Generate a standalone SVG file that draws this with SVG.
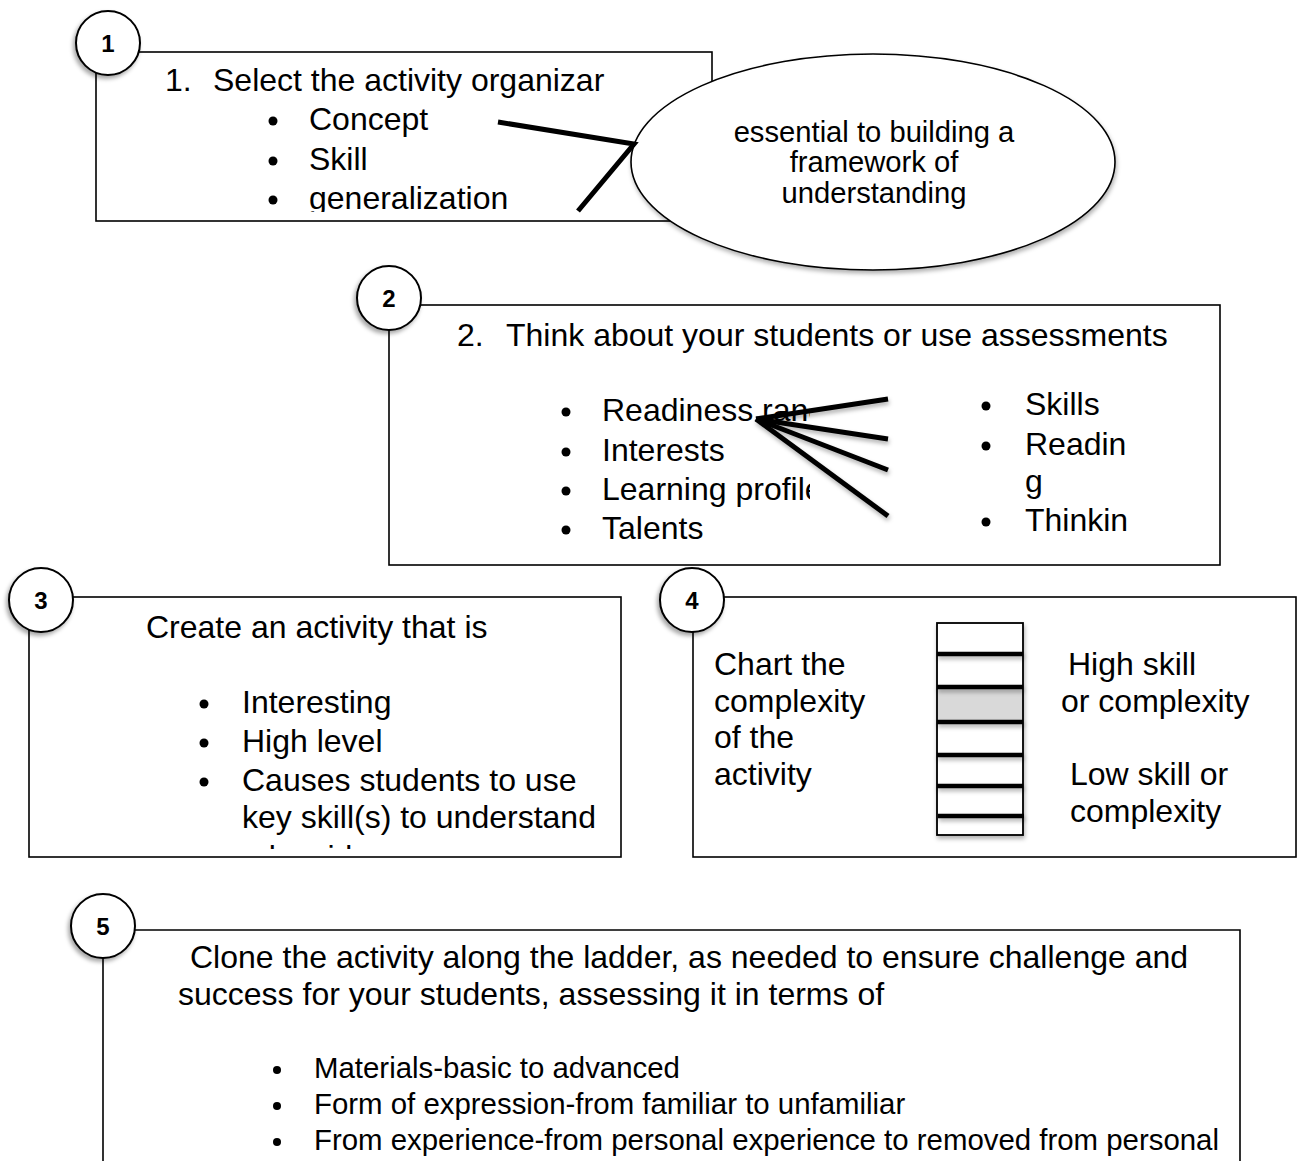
<svg xmlns="http://www.w3.org/2000/svg" width="1301" height="1161" viewBox="0 0 1301 1161">
  <style>
    text { font-family: "Liberation Sans", Arial, sans-serif; fill: #000; }
    .t32 { font-size: 32px; }
    .t29 { font-size: 29.2px; }
    .tb { font-size: 29.4px; }
    .num { font-size: 24px; font-weight: bold; text-anchor: middle; }
    .box { fill: none; stroke: #000; stroke-width: 1.6; }
    .badge { fill: #fff; stroke: #000; stroke-width: 2; }
    .thick { stroke: #000; stroke-width: 5; stroke-linecap: butt; fill: none; }
    .rung { stroke: #000; stroke-width: 4.5; }
  </style>
  <defs>
    <filter id="sh" x="-20%" y="-20%" width="140%" height="150%">
      <feDropShadow dx="-2" dy="3" stdDeviation="2" flood-color="#000" flood-opacity="0.35"/>
    </filter>
    <filter id="lsh" x="-10%" y="-50%" width="120%" height="200%">
      <feDropShadow dx="1" dy="3" stdDeviation="2" flood-color="#000" flood-opacity="0.3"/>
    </filter>
    <clipPath id="clip1"><rect x="96" y="52" width="616" height="160"/></clipPath>
    <clipPath id="clip2"><rect x="540" y="380" width="270" height="180"/></clipPath>
    <clipPath id="clip3"><rect x="29" y="597" width="592" height="252"/></clipPath>
  </defs>
  <rect width="1301" height="1161" fill="#fff"/>

  <!-- step 1: choose the organizer -->
  <g id="step1">
    <rect class="box" x="96" y="52" width="616" height="169"/>
    <g clip-path="url(#clip1)">
      <text class="t32" x="165" y="91">1.</text>
      <text class="t32" x="213" y="91">Select the activity organizar</text>
      <circle cx="273" cy="121" r="4.5"/>
      <circle cx="273" cy="161" r="4.5"/>
      <circle cx="273" cy="200" r="4.5"/>
      <text class="t32" x="309" y="130">Concept</text>
      <text class="t32" x="309" y="170">Skill</text>
      <text class="t32" x="309" y="209">generalization</text>
    </g>
    <circle class="badge" cx="108" cy="43" r="32" filter="url(#sh)"/>
    <text class="num" x="108" y="52">1</text>
  </g>

  <!-- callout bubble -->
  <g id="callout">
    <ellipse cx="873" cy="162" rx="242" ry="108" fill="#fff" stroke="#000" stroke-width="1.6" filter="url(#lsh)"/>
    <g text-anchor="middle">
      <text class="t29" x="874" y="142">essential to building a</text>
      <text class="t29" x="874" y="172">framework of</text>
      <text class="t29" x="874" y="203">understanding</text>
    </g>
  </g>

  <!-- step 2: students -->
  <g id="step2">
    <rect class="box" x="389" y="305" width="831" height="260"/>
    <text class="t32" x="457" y="346">2.</text>
    <text class="t32" x="506" y="346">Think about your students or use assessments</text>
    <g clip-path="url(#clip2)">
      <circle cx="566" cy="412" r="4.5"/>
      <circle cx="566" cy="452" r="4.5"/>
      <circle cx="566" cy="491" r="4.5"/>
      <circle cx="566" cy="530" r="4.5"/>
      <text class="t32" x="602" y="421">Readiness range</text>
      <text class="t32" x="602" y="461">Interests</text>
      <text class="t32" x="602" y="500">Learning profile</text>
      <text class="t32" x="602" y="539">Talents</text>
    </g>
    <circle cx="986" cy="406" r="4.5"/>
    <circle cx="986" cy="446" r="4.5"/>
    <circle cx="986" cy="522" r="4.5"/>
    <text class="t32" x="1025" y="415">Skills</text>
    <text class="t32" x="1025" y="455">Readin</text>
    <text class="t32" x="1025" y="492">g</text>
    <text class="t32" x="1025" y="531">Thinkin</text>
    <circle class="badge" cx="389" cy="298" r="32" filter="url(#sh)"/>
    <text class="num" x="389" y="307">2</text>
  </g>

  <!-- step 3: create the activity -->
  <g id="step3">
    <rect class="box" x="29" y="597" width="592" height="260"/>
    <text class="t32" x="146" y="638">Create an activity that is</text>
    <g clip-path="url(#clip3)">
      <circle cx="204" cy="704" r="4.5"/>
      <circle cx="204" cy="743" r="4.5"/>
      <circle cx="204" cy="782" r="4.5"/>
      <text class="t32" x="242" y="713">Interesting</text>
      <text class="t32" x="242" y="752">High level</text>
      <text class="t32" x="242" y="791">Causes students to use</text>
      <text class="t32" x="242" y="828">key skill(s) to understand</text>
      <text class="t32" x="242" y="868">a key idea</text>
    </g>
    <circle class="badge" cx="41" cy="600" r="32" filter="url(#sh)"/>
    <text class="num" x="41" y="609">3</text>
  </g>

  <!-- step 4: the ladder chart -->
  <g id="step4">
    <rect class="box" x="693" y="597" width="603" height="260"/>
    <text class="t32" x="714" y="675">Chart the</text>
    <text class="t32" x="714" y="712">complexity</text>
    <text class="t32" x="714" y="748">of the</text>
    <text class="t32" x="714" y="785">activity</text>
    <g id="ladder">
      <rect x="937" y="623" width="86" height="212" fill="#fff" stroke="#000" stroke-width="1.8" filter="url(#lsh)"/>
      <rect x="938" y="687" width="84" height="36" fill="#d9d9d9"/>
      <g filter="url(#lsh)">
        <line class="rung" x1="937" y1="654" x2="1023" y2="654"/>
        <line class="rung" x1="937" y1="687" x2="1023" y2="687"/>
        <line class="rung" x1="937" y1="722" x2="1023" y2="722"/>
        <line class="rung" x1="937" y1="755" x2="1023" y2="755"/>
        <line class="rung" x1="937" y1="786" x2="1023" y2="786"/>
        <line class="rung" x1="938" y1="816" x2="1024" y2="816"/>
      </g>
    </g>
    <text class="t32" x="1068" y="675">High skill</text>
    <text class="t32" x="1061" y="712">or complexity</text>
    <text class="t32" x="1070" y="785">Low skill or</text>
    <text class="t32" x="1070" y="822">complexity</text>
    <circle class="badge" cx="692" cy="600" r="32" filter="url(#sh)"/>
    <text class="num" x="692" y="609">4</text>
  </g>

  <!-- step 5: clone along the ladder -->
  <g id="step5">
    <path class="box" d="M103 1170 V930 H1240 V1170"/>
    <text class="t32" x="190" y="968">Clone the activity along the ladder, as needed to ensure challenge and</text>
    <text class="t32" x="178" y="1005">success for your students, assessing it in terms of</text>
    <circle cx="277" cy="1070" r="4"/>
    <circle cx="277" cy="1106" r="4"/>
    <circle cx="277" cy="1142" r="4"/>
    <text class="tb" x="314" y="1078">Materials-basic to advanced</text>
    <text class="tb" x="314" y="1114">Form of expression-from familiar to unfamiliar</text>
    <text class="tb" x="314" y="1150">From experience-from personal experience to removed from personal</text>
    <circle class="badge" cx="103" cy="926" r="32" filter="url(#sh)"/>
    <text class="num" x="103" y="935">5</text>
  </g>

  <!-- connector strokes -->
  <g id="connectors" fill="none">
    <polyline class="thick" points="498,122 634,144 578,211"/>
    <g filter="url(#lsh)">
      <line class="thick" x1="756" y1="419" x2="888" y2="399"/>
      <line class="thick" x1="756" y1="419" x2="888" y2="439"/>
      <line class="thick" x1="756" y1="419" x2="888" y2="470"/>
      <line class="thick" x1="756" y1="419" x2="888" y2="516"/>
    </g>
  </g>
</svg>
